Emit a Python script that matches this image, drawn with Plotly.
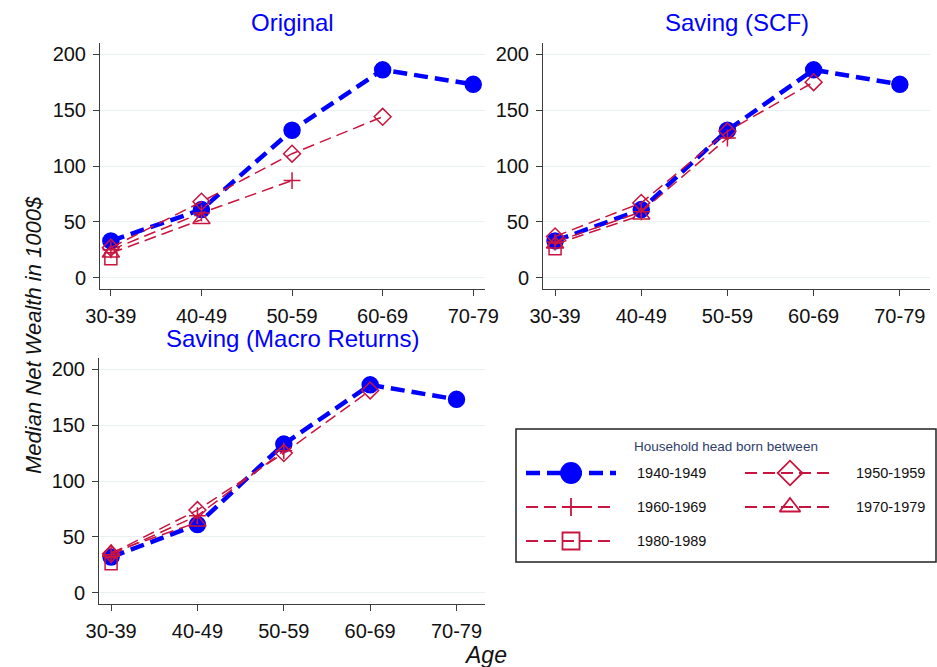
import plotly.graph_objects as go

# ---- data (median net wealth, thousands of dollars) ----
ages = ["30-39", "40-49", "50-59", "60-69", "70-79"]
cohorts = ["1940-1949", "1950-1959", "1960-1969", "1970-1979", "1980-1989"]

orig_1940 = [33, 61, 132, 186, 173]
orig_1950 = [27, 68, 111, 144]
orig_1960 = [25, 58, 87]
orig_1970 = [22, 52]
orig_1980 = [17]

scf_1940 = [33, 61, 132, 186, 173]
scf_1950 = [37, 67, 131, 175]
scf_1960 = [32, 59, 125]
scf_1970 = [30, 56]
scf_1980 = [26]

macro_1940 = [32, 61, 133, 186, 173]
macro_1950 = [35, 74, 125, 181]
macro_1960 = [34, 69, 127]
macro_1970 = [36, 63]
macro_1980 = [26]

panel_titles = ["Original", "Saving (SCF)", "Saving (Macro Returns)"]
y_ticks = [0, 50, 100, 150, 200]

panels = [
    [orig_1940, orig_1950, orig_1960, orig_1970, orig_1980],
    [scf_1940, scf_1950, scf_1960, scf_1970, scf_1980],
    [macro_1940, macro_1950, macro_1960, macro_1970, macro_1980],
]

# ---- styling ----
W, H = 937, 667
FONT = "Liberation Sans, Arial, sans-serif"
BLUE = "#0000FF"
RED = "#C8143E"
GRID = "#EAF1F3"
AXIS = "#3C3C3C"

styles = [
    dict(color=BLUE, width=4.5, dash="14px,7px", symbol="circle", size=16, lsize=20),
    dict(color=RED, width=1.5, dash="12px,6px", symbol="diamond-open", size=13, lsize=19),
    dict(color=RED, width=1.5, dash="12px,6px", symbol="cross-thin-open", size=12, lsize=13),
    dict(color=RED, width=1.5, dash="12px,6px", symbol="triangle-up-open", size=15, lsize=18),
    dict(color=RED, width=1.5, dash="12px,6px", symbol="square-open", size=12, lsize=17),
]


def px_x(p):
    return p / W


def px_y(p):
    return 1 - p / H


# panel boxes in pixels: (left, right, top, bottom) and x ranges
boxes = [
    dict(l=100, r=485, t=43, b=289, xr=[-0.12, 4.13]),
    dict(l=543, r=930, t=43, b=289, xr=[-0.14, 4.35]),
    dict(l=99, r=485, t=358, b=604, xr=[-0.14, 4.33]),
]

fig = go.Figure()

for i, series_list in enumerate(panels):
    sfx = "" if i == 0 else str(i + 1)
    for j, vals in enumerate(series_list):
        st = styles[j]
        fig.add_trace(go.Scatter(
            x=list(range(len(vals))), y=vals,
            mode="lines+markers",
            line=dict(color=st["color"], width=st["width"], dash=st["dash"]),
            marker=dict(symbol=st["symbol"], size=st["size"], color=st["color"],
                        line=dict(color=st["color"], width=1.5)),
            xaxis="x" + sfx, yaxis="y" + sfx,
            showlegend=False, hoverinfo="skip",
        ))

axis_common = dict(
    showline=True, linecolor=AXIS, linewidth=1, ticks="outside", ticklen=6,
    tickcolor=AXIS, tickwidth=1, zeroline=False, ticklabelstandoff=3,
    tickfont=dict(family=FONT, size=20, color="#111"),
)

layout = dict(
    width=W, height=H, autosize=False, margin=dict(l=0, r=0, t=0, b=0, pad=0, autoexpand=False),
    paper_bgcolor="white", plot_bgcolor="white",
    font=dict(family=FONT), showlegend=False,
)

for i, b in enumerate(boxes):
    sfx = "" if i == 0 else str(i + 1)
    layout["xaxis" + sfx] = dict(
        axis_common, domain=[px_x(b["l"]), px_x(b["r"])], range=b["xr"],
        tickvals=list(range(len(ages))), ticktext=ages, showgrid=False,
        anchor="y" + sfx, automargin=False,
    )
    layout["yaxis" + sfx] = dict(
        axis_common, domain=[px_y(b["b"]), px_y(b["t"])], range=[-10, 210],
        tickvals=y_ticks, showgrid=True, gridcolor=GRID, gridwidth=1.2,
        anchor="x" + sfx, automargin=False,
    )

# ---- legend drawn on its own hidden axis (pixel-like units inside the box) ----
LB = dict(l=516, r=936, t=429, b=562)
layout["xaxis4"] = dict(domain=[px_x(LB["l"]), px_x(LB["r"])], range=[0, LB["r"] - LB["l"]],
                        visible=False, anchor="y4", fixedrange=True)
layout["yaxis4"] = dict(domain=[px_y(LB["b"]), px_y(LB["t"])], range=[LB["b"] - LB["t"], 0],
                        visible=False, anchor="x4", fixedrange=True)

key_x0, key_len, col_step, label_gap = 10, 90, 219, 19
row_y0, row_step = 44, 34
annotations = []
for j, name in enumerate(cohorts):
    st = styles[j]
    col, row = j % 2, j // 2
    x0 = key_x0 + col * col_step
    xm = x0 + key_len / 2
    x1 = x0 + key_len
    y = row_y0 + row * row_step
    fig.add_trace(go.Scatter(
        x=[x0, x1], y=[y, y], mode="lines",
        line=dict(color=st["color"], width=st["width"] if j == 0 else 1.8, dash=st["dash"]),
        xaxis="x4", yaxis="y4", showlegend=False, hoverinfo="skip",
    ))
    fig.add_trace(go.Scatter(
        x=[xm], y=[y], mode="markers",
        marker=dict(symbol=st["symbol"], size=st["lsize"], color=st["color"],
                    line=dict(color=st["color"], width=1.8)),
        xaxis="x4", yaxis="y4", showlegend=False, hoverinfo="skip",
    ))
    annotations.append(dict(
        x=x1 + label_gap, y=y, xref="x4", yref="y4", text=name, showarrow=False,
        xanchor="left", yanchor="middle", font=dict(family=FONT, size=14.5, color="#111"),
    ))

annotations.append(dict(
    x=(LB["r"] - LB["l"]) / 2, y=17, xref="x4", yref="y4", text="Household head born between",
    showarrow=False, xanchor="center", yanchor="middle",
    font=dict(family=FONT, size=13.5, color="#2F3D6B"),
))

# panel titles
for i, b in enumerate(boxes):
    annotations.append(dict(
        x=px_x((b["l"] + b["r"]) / 2), y=px_y(b["t"] - 20), xref="paper", yref="paper",
        text=panel_titles[i], showarrow=False, xanchor="center", yanchor="middle",
        font=dict(family=FONT, size=24, color=BLUE),
    ))

# shared axis titles
annotations.append(dict(
    x=px_x(33), y=px_y(335), xref="paper", yref="paper",
    text="<i>Median Net Wealth in 1000$</i>", showarrow=False, textangle=-90,
    xanchor="center", yanchor="middle", font=dict(family=FONT, size=22, color="#111"),
))
annotations.append(dict(
    x=px_x(485), y=px_y(655), xref="paper", yref="paper",
    text="<i>Age</i>", showarrow=False, xanchor="center", yanchor="middle",
    font=dict(family=FONT, size=23, color="#111"),
))

layout["annotations"] = annotations
layout["shapes"] = [
    # legend frame
    dict(type="rect", xref="paper", yref="paper", layer="below",
         x0=px_x(LB["l"]), x1=px_x(LB["r"]), y0=px_y(LB["b"]), y1=px_y(LB["t"]),
         line=dict(color="#222", width=1.5), fillcolor="white"),
]

fig.update_layout(**layout)
fig.write_html("out.html", config={"responsive": False})
